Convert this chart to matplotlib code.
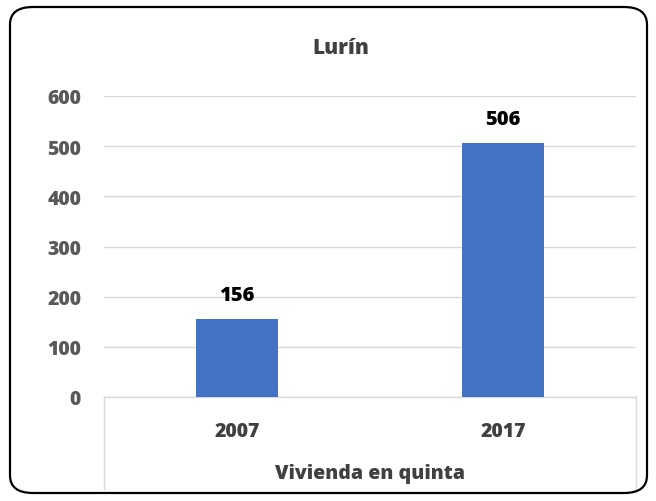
import matplotlib
matplotlib.use("Agg")
import matplotlib.pyplot as plt
from matplotlib.patches import FancyBboxPatch

# data
years = ["2007", "2017"]
viviendas = [156, 506]
y_ticks = [0, 100, 200, 300, 400, 500, 600]

plt.rcParams['font.family'] = ['Open Sans', 'DejaVu Sans']
W = 800

fig = plt.figure(figsize=(6.56, 5.02), dpi=100)
ax = fig.add_axes([104 / 656, 1 - 398 / 502, 532 / 656, 301 / 502])

x = range(len(years))
bars = ax.bar(x, viviendas, width=0.31, color="#4472C4", zorder=3)
ax.set_xlim(-0.5, 1.5)
ax.set_ylim(0, 600)
ax.set_yticks(y_ticks)
ax.set_yticklabels([str(t) for t in y_ticks], fontsize=14, fontweight=W, color="#595959")
ax.set_xticks(list(x))
ax.set_xticklabels(years, fontsize=14, fontweight=W, color="#404040")
ax.tick_params(axis="both", length=0)
ax.tick_params(axis="y", pad=16.5)
ax.tick_params(axis="x", pad=17)
ax.grid(axis="y", color="#d9d9d9", linewidth=1, zorder=0)
for s in ["top", "right", "left"]:
    ax.spines[s].set_visible(False)
ax.spines["bottom"].set_color("#d9d9d9")
ax.spines["bottom"].set_linewidth(1)

# category axis side lines going down under labels
for xx in [0, 1]:
    ax.plot([xx, xx], [0, -0.305], transform=ax.transAxes, color="#d9d9d9",
            linewidth=1, clip_on=False)

# data labels
for b, v in zip(bars, viviendas):
    ax.annotate(str(v), (b.get_x() + b.get_width() / 2, v), xytext=(0, 10),
                textcoords="offset points", ha="center", va="bottom",
                fontsize=14.5, fontweight=W, color="black")

ax.set_xlabel("Vivienda en quinta", fontsize=14, fontweight=W, color="#404040", labelpad=16)
fig.text(341 / 656, 1 - 48 / 502, "Lurín", ha="center", va="center",
         fontsize=15, fontweight=W, color="#404040")

# rounded chart border
border = FancyBboxPatch((10 / 656, 8 / 502), 637 / 656, 486 / 502,
                        boxstyle="round,pad=0,rounding_size=0.035",
                        transform=fig.transFigure, fill=False,
                        edgecolor="black", linewidth=1.6)
fig.patches.append(border)

fig.savefig("out.png", dpi=100)
